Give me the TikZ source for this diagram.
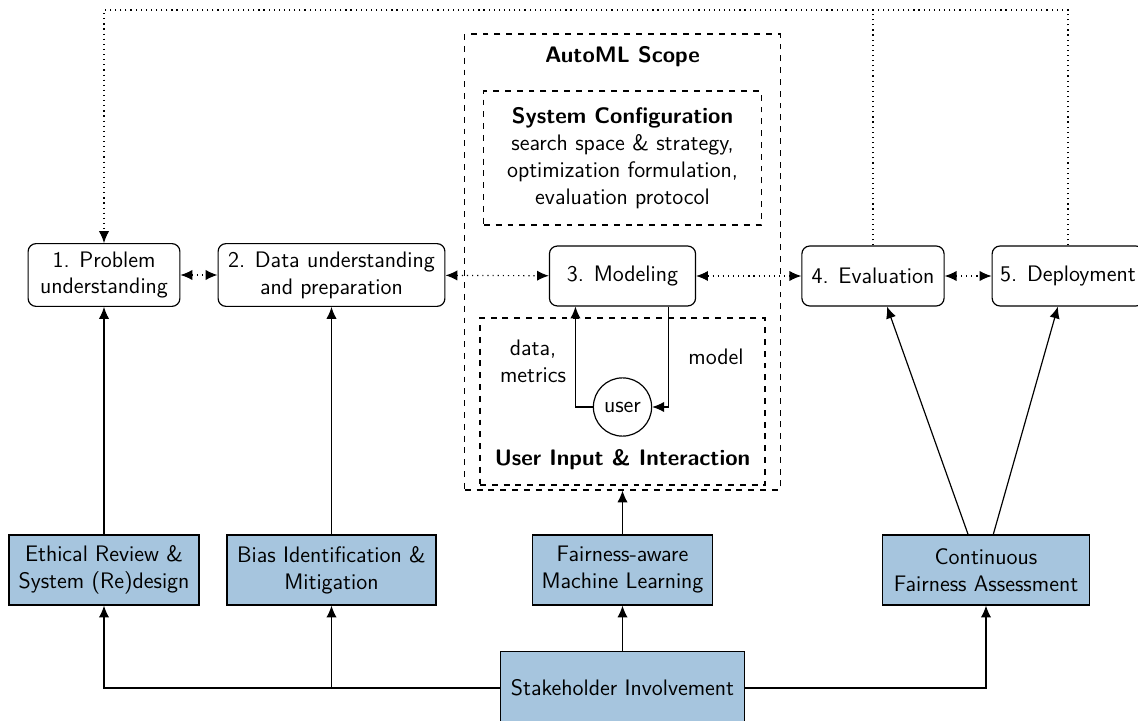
\documentclass[tikz,border=0pt]{standalone}
\usepackage{fontspec}
\renewcommand{\familydefault}{\sfdefault}
\usetikzlibrary{positioning,calc,arrows.meta}
\definecolor{fairblue}{RGB}{166,197,222}

\begin{document}
\begin{tikzpicture}[
                            x=1cm/56, y=-1cm/56,
                            >={Latex[length=6pt,width=5.2pt]},
                            semithick,
                            font=\fontsize{11.4}{13.7}\selectfont,
                            phase/.style={rectangle, draw, rounded corners=4pt, align=center, minimum height=1.07cm},
                            fair/.style={rectangle, draw, fill=fairblue, align=center, minimum height=1.25cm},
                            scopebox/.style={rectangle, draw, dashed},
                            title/.style={font=\fontsize{11.4}{13.7}\selectfont\bfseries}
                        ]
                        \useasboundingbox (0,0) rectangle (1138,721);

                        % Scope boxes
                        \node [scopebox, minimum width=5.63cm, minimum height=8.14cm] (scope) at (622.5,262) {};
                        \node [title] (scopetitle) at (622.5,57) {AutoML Scope};
                        \node [scopebox, minimum width=4.95cm, minimum height=2.39cm, align=center] (config) at (622.5,158)
                            {\textbf{System Configuration}\\search space \& strategy,\\optimization formulation,\\evaluation protocol};
                        \node [scopebox, minimum width=5.09cm, minimum height=2.98cm] (input) at (622.5,401.5) {};
                        \node [title] (inputtitle) at (622.5,460) {User Input \& Interaction};

                        % Phases
                        \node [phase, minimum width=2.71cm, minimum height=1.12cm] (problem) at (104,275) {1. Problem\\understanding};
                        \node [phase, minimum width=4.05cm, minimum height=1.12cm] (data) at (331.5,275) {2. Data understanding\\and preparation};
                        \node [phase, minimum width=2.61cm] (modeling) at (622.5,276) {3. Modeling};
                        \node [phase, minimum width=2.54cm] (eval) at (873,276) {4. Evaluation};
                        \node [phase, minimum width=2.71cm] (deploy) at (1068,276) {5. Deployment};

                        % User loop
                        \node [circle, draw, minimum size=1.04cm, inner sep=0pt] (user) at (622.5,407) {user};
                        \node [align=center] (datametrics) at (533,361) {data,\\metrics};
                        \node (modellabel) at (716,357) {model};

                        % Fairness blocks
                        \node [fair, minimum width=3.39cm] (ethic) at (104,570) {Ethical Review \&\\System (Re)design};
                        \node [fair, minimum width=3.73cm] (bias) at (331.5,570) {Bias Identification \&\\Mitigation};
                        \node [fair, minimum width=3.21cm] (fairml) at (622.5,570) {Fairness-aware\\Machine Learning};
                        \node [fair, minimum width=3.71cm] (cont) at (986,570) {Continuous\\Fairness Assessment};
                        \node [fair, minimum width=4.36cm, minimum height=1.29cm] (stake) at (622.5,688) {Stakeholder Involvement};

                        % Connections
                        \draw [<->, dotted] (problem) -- (data);
                        \draw [<->, dotted] (data) -- (modeling);
                        \draw [<->, dotted] (modeling) -- (eval);
                        \draw [<->, dotted] (eval) -- (deploy);
                        \coordinate (top) at (0,10);
                        \draw [dotted] (eval.north) -- (eval.north |- top);
                        \draw [->, dotted] (deploy.north) -- (deploy.north |- top) -| (problem.north);

                        \draw [->] (user.west) -| ([xshift=-0.84cm]modeling.south);
                        \draw [->] ([xshift=0.82cm]modeling.south) |- (user.east);

                        \draw [->] (ethic) -- (problem);
                        \draw [->] (bias) -- (data);
                        \draw [->] (fairml) -- (scope);
                        \draw [->] ([xshift=-0.32cm]cont.north) -- ([xshift=0.25cm]eval.south);
                        \draw [->] ([xshift=0.13cm]cont.north) -- ([xshift=-0.18cm]deploy.south);

                        \draw [->] (stake.west) -| (ethic.south);
                        \draw [->] (stake.west) -| (bias.south);
                        \draw [->] (stake) -- (fairml);
                        \draw [->] (stake.east) -| (cont.south);
                    \end{tikzpicture}
\end{document}
